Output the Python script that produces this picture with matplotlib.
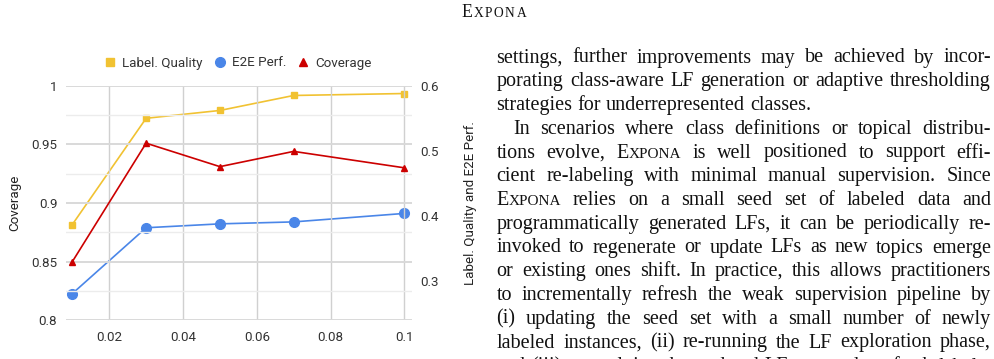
import matplotlib.pyplot as plt
from matplotlib.lines import Line2D

# data
x_ratio = [0.01, 0.03, 0.05, 0.07, 0.1]
label_quality = [0.387, 0.550, 0.562, 0.585, 0.588]
e2e_perf = [0.281, 0.382, 0.388, 0.391, 0.404]
coverage = [0.850, 0.951, 0.931, 0.944, 0.930]

x_ticks = [0.02, 0.04, 0.06, 0.08, 0.1]
x_tick_labels = ["0.02", "0.04", "0.06", "0.08", "0.1"]
left_ticks = [0.8, 0.85, 0.9, 0.95, 1.0]
left_tick_labels = ["0.8", "0.85", "0.9", "0.95", "1"]
right_ticks = [0.3, 0.4, 0.5, 0.6]
right_tick_labels = ["0.3", "0.4", "0.5", "0.6"]

header_word = "EXPONA"
body_lines = [
    "settings, further improvements may be achieved by incor-",
    "porating class-aware LF generation or adaptive thresholding",
    "strategies for underrepresented classes.",
    "In scenarios where class definitions or topical distribu-",
    "tions evolve, EXPONA is well positioned to support effi-",
    "cient re-labeling with minimal manual supervision. Since",
    "EXPONA relies on a small seed set of labeled data and",
    "programmatically generated LFs, it can be periodically re-",
    "invoked to regenerate or update LFs as new topics emerge",
    "or existing ones shift. In practice, this allows practitioners",
    "to incrementally refresh the weak supervision pipeline by",
    "(i) updating the seed set with a small number of newly",
    "labeled instances, (ii) re-running the LF exploration phase,",
    "and (iii) re-applying the updated LFs to produce fresh labels,",
]
# lines that end a paragraph are not stretched, first line of a paragraph is indented
last_of_par = {2}
first_of_par = {3}

YELLOW = "#f1c232"
BLUE = "#4a86e8"
RED = "#cc0000"
TXT = "#333333"

plt.rcParams["font.family"] = ["Roboto", "DejaVu Sans"]

W, H = 994, 359
fig = plt.figure(figsize=(W / 100, H / 100), dpi=100)


def fx(px):
    return px / W


def fy(py):
    return 1 - py / H


# ---- chart ----
ax = fig.add_axes([fx(65.7), fy(320.3), (411.7 - 65.7) / W, (320.3 - 85.7) / H])
ax2 = ax.twinx()

ax.set_xlim(0.0082, 0.102)
ax.set_ylim(0.8, 1.0)
ax2.set_ylim(0.24, 0.6)

ax.set_xticks(x_ticks, x_tick_labels)
ax.set_yticks(left_ticks, left_tick_labels)
ax.set_yticks([0.825, 0.875, 0.925, 0.975], minor=True)
ax2.set_yticks(right_ticks, right_tick_labels)

for a in (ax, ax2):
    for s in a.spines.values():
        s.set_visible(False)
    a.tick_params(length=0, labelsize=9.6, labelcolor=TXT)
ax.tick_params(axis="y", which="minor", length=0)
ax.tick_params(axis="x", pad=8)
ax.tick_params(axis="y", pad=6)
ax2.tick_params(axis="y", pad=6)

ax.grid(True, axis="y", which="major", color="#d9d9d9", linewidth=1.4)
ax.grid(True, axis="y", which="minor", color="#ececec", linewidth=1.0)
ax.grid(True, axis="x", which="major", color="#d0d0d0", linewidth=1.0)
ax.set_axisbelow(True)

ax.plot(x_ratio, coverage, color=RED, lw=1.2, marker="^", ms=5, zorder=3)
ax2.plot(x_ratio, label_quality, color=YELLOW, lw=1.2, marker="s", ms=5, zorder=3)
ax2.plot(x_ratio, e2e_perf, color=BLUE, lw=1.2, marker="o", ms=7, zorder=3)
ax.set_zorder(ax2.get_zorder() + 1)
ax.patch.set_visible(False)

ax.set_ylabel("Coverage", fontsize=9.6, color="#222222", labelpad=7)
ax2.set_ylabel("Label. Quality and E2E Perf.", fontsize=9.6, color="#222222", labelpad=18)

handles = [
    Line2D([], [], ls="none", marker="s", ms=6, color=YELLOW),
    Line2D([], [], ls="none", marker="o", ms=7, color=BLUE),
    Line2D([], [], ls="none", marker="^", ms=6, color=RED),
]
fig.legend(handles, ["Label. Quality", "E2E Perf.", "Coverage"], loc="center",
           bbox_to_anchor=(fx(238), fy(63)), ncol=3, frameon=False, fontsize=9.6,
           labelcolor=TXT, handlelength=0.8, handletextpad=0.5, columnspacing=0.9)

# ---- page text ----
SERIF = "Liberation Serif"
BODY = 14.5
SC = 0.76
renderer = fig.canvas.get_renderer()


def runs_of(word, size, track):
    # (text, fontsize, extra px after each letter); EXPONA is set in small caps
    if word.startswith("EXPONA"):
        return [("E", size, track), ("XPONA", size * SC, track), (word[6:], size, 0)]
    return [(word, size, 0)]


def layout(word, size, track=0, x=None, y=None):
    # width of a word in px; draws it when x, y are given
    w = 0
    for s, sz, tr in runs_of(word, size, track):
        if not s:
            continue
        pieces = list(s) if tr else [s]
        for p in pieces:
            if x is None:
                t = fig.text(0, 0, p, fontsize=sz, family=SERIF)
            else:
                t = fig.text(fx(x + w), fy(y), p, fontsize=sz, family=SERIF,
                             color="#111111", va="baseline", ha="left")
            w += t.get_window_extent(renderer).width + tr
            if x is None:
                t.remove()
    return w


layout(header_word, 12.8, 1.6, 461, 17)

x_left, x_right = 496.5, 991.0
space = 0.25 * BODY * 100 / 72
y0, lead = 62.5, 23.75
for i, line in enumerate(body_lines):
    words = line.split(" ")
    xs = x_left + (17 if i in first_of_par else 0)
    widths = [layout(w, BODY) for w in words]
    if i in last_of_par or len(words) < 2:
        gap = space
    else:
        gap = (x_right - xs - sum(widths)) / (len(words) - 1)
    x = xs
    y = y0 + i * lead
    for w, wd in zip(words, widths):
        layout(w, BODY, 0, x, y)
        x += wd + gap

fig.savefig("out.png", dpi=100)
